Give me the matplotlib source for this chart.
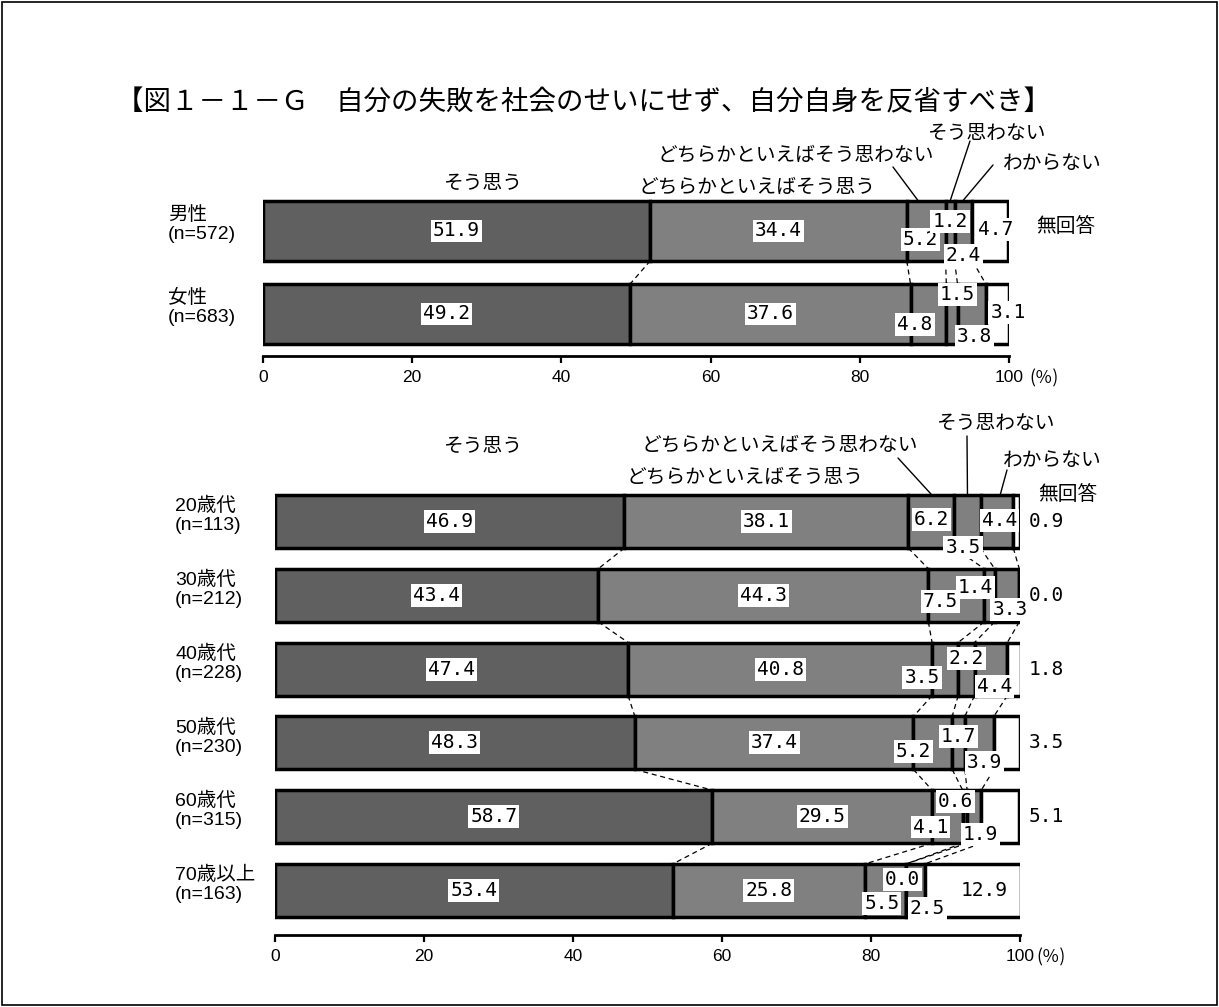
import matplotlib
matplotlib.use("Agg")
import matplotlib.pyplot as plt
from matplotlib.patches import Rectangle
import numpy as np

plt.rcParams['font.family'] = ['Noto Sans CJK JP', 'DejaVu Sans']

# ---------------- data ----------------
title = "【図１－１－Ｇ　自分の失敗を社会のせいにせず、自分自身を反省すべき】"
categories = ["そう思う", "どちらかといえばそう思う", "どちらかといえばそう思わない",
              "そう思わない", "わからない", "無回答"]

sex_labels = ["男性\n(n=572)", "女性\n(n=683)"]
sex_values = [
    [51.9, 34.4, 5.2, 1.2, 2.4, 4.7],
    [49.2, 37.6, 4.8, 1.5, 3.8, 3.1],
]

age_labels = ["20歳代\n(n=113)", "30歳代\n(n=212)", "40歳代\n(n=228)",
              "50歳代\n(n=230)", "60歳代\n(n=315)", "70歳以上\n(n=163)"]
age_values = [
    [46.9, 38.1, 6.2, 3.5, 4.4, 0.9],
    [43.4, 44.3, 7.5, 1.4, 3.3, 0.0],
    [47.4, 40.8, 3.5, 2.2, 4.4, 1.8],
    [48.3, 37.4, 5.2, 1.7, 3.9, 3.5],
    [58.7, 29.5, 4.1, 0.6, 1.9, 5.1],
    [53.4, 25.8, 5.5, 0.0, 2.5, 12.9],
]
ticks = [0, 20, 40, 60, 80, 100]

# ---------------- style / layout ----------------
colors = ["#606060", "#808080", "#808080", "#808080", "#808080", "#ffffff"]
W, H = 1219, 1007
BAR_H = 0.72

# label offsets for small segments (dx in %, dy in row units), per row: seg3, seg4, seg5, seg6
sex_offsets = [
    [(-0.8, 0.10), (0.0, -0.11), (0.0, 0.30), (0.7, -0.02)],
    [(-1.8, 0.13), (0.7, -0.23), (0.4, 0.27), (1.4, -0.02)],
]
age_offsets = [
    [(0.0, -0.03), (-0.6, 0.35), (0.4, -0.01), None],
    [(-2.1, 0.09), (-1.9, -0.11), (0.4, 0.19), None],
    [(-3.1, 0.12), (0.0, -0.14), (0.5, 0.24), None],
    [(-2.6, 0.12), (0.0, -0.09), (0.7, 0.26), None],
    [(-2.3, 0.14), (-1.3, -0.20), (0.8, 0.24), None],
    [(-0.5, 0.18), (-0.5, -0.15), (1.6, 0.24), (1.6, 0.0)],
]


def fp(x, y):
    return (x / W, 1 - y / H)


fig = plt.figure(figsize=(W / 100, H / 100), dpi=100)
fig.patches.append(Rectangle((0.002, 0.002), 0.996, 0.996, transform=fig.transFigure,
                             fill=False, ec='black', lw=1.2))

fig.text(*fp(116, 103), title, fontsize=19.8, ha='left', va='center')

num_font = dict(family='DejaVu Sans Mono', fontsize=14)
box = dict(boxstyle='square,pad=0.1', fc='white', ec='none')


def draw_panel(ax, labels, values, offsets, label_x_frac):
    n = len(values)
    rows = np.arange(n)
    vals = np.array(values)
    cums = np.cumsum(vals, axis=1)
    lefts = cums - vals
    for j in range(vals.shape[1]):
        ax.barh(rows, vals[:, j], left=lefts[:, j], height=BAR_H, color=colors[j],
                edgecolor='black', linewidth=2.5, zorder=2)
    # dashed connectors
    for i in range(n - 1):
        for j in range(5):
            ax.plot([cums[i, j], cums[i + 1, j]], [i + BAR_H / 2, i + 1 - BAR_H / 2],
                    color='black', lw=0.9, ls=(0, (4, 3)), zorder=1)
    # value labels
    for i in range(n):
        for j in range(6):
            v = vals[i, j]
            mid = lefts[i, j] + v / 2
            if j < 2:
                ax.text(mid, i, f"{v:.1f}", ha='center', va='center', bbox=box, zorder=5, **num_font)
            else:
                off = offsets[i][j - 2]
                if off is None:
                    ax.text(101.2, i, f"{v:.1f}", ha='left', va='center', zorder=5, **num_font)
                else:
                    ax.text(mid + off[0], i + off[1], f"{v:.1f}", ha='center', va='center',
                            bbox=box, zorder=5, **num_font)
    ax.set_xlim(0, 100)
    ax.set_xticks(ticks)
    ax.set_xticklabels([str(t) for t in ticks], family='Liberation Sans', fontsize=12.5)
    ax.set_yticks([])
    for s in ['top', 'right', 'left']:
        ax.spines[s].set_visible(False)
    ax.spines['bottom'].set_linewidth(2)
    ax.tick_params(axis='x', direction='out', length=5, width=1.6, pad=5)
    ax.patch.set_visible(False)
    for i, lab in enumerate(labels):
        ax.text(label_x_frac, i - 0.08, lab, transform=ax.get_yaxis_transform(),
                ha='left', va='center', fontsize=14, linespacing=1.15,
                family=['Liberation Sans', 'Noto Sans CJK JP'])


# top panel
ax1 = fig.add_axes([263 / W, 1 - 356 / H, 746 / W, 196 / H])
ax1.set_ylim(1.506, -0.855)
draw_panel(ax1, sex_labels, sex_values, sex_offsets, (168 - 263) / 746)
# bottom panel
ax2 = fig.add_axes([275 / W, 1 - 935 / H, 745 / W, 535 / H])
ax2.set_ylim(5.603, -1.646)
draw_panel(ax2, age_labels, age_values, age_offsets, (175 - 275) / 745)

# (%) texts
fig.text(*fp(1029, 378), "(％)", fontsize=12.5, ha='left', va='center')
fig.text(*fp(1036, 957), "(％)", fontsize=12.5, ha='left', va='center')

# headers
hdr_fs = 14.2
top_hdr = [(483, 183), (757, 187), (796, 155), (987, 133), (1052, 163), (1066, 226)]
bot_hdr = [(483, 446), (745, 477), (780, 445), (996, 423), (1052, 460), (1068, 495)]
for (x, y), c in zip(top_hdr, categories):
    fig.text(*fp(x, y), c, fontsize=hdr_fs, ha='center', va='center')
for (x, y), c in zip(bot_hdr, categories):
    fig.text(*fp(x, y), c, fontsize=hdr_fs, ha='center', va='center')

# leader lines: (segment index, fraction across segment, start pixel)
top_leaders = [(2, 0.3, (893, 167)), (3, 0.5, (970, 141)), (4, 0.45, (993, 165))]
bot_leaders = [(2, 0.51, (898, 458)), (3, 0.5, (967, 436)), (4, 0.6, (1007, 470))]
for ax, vals, leaders in [(ax1, sex_values, top_leaders), (ax2, age_values, bot_leaders)]:
    v0 = np.array(vals[0])
    c0 = np.cumsum(v0)
    for j, frac, (sx, sy) in leaders:
        xd = c0[j] - v0[j] + frac * v0[j]
        ax.annotate('', xy=(xd, -BAR_H / 2), xycoords='data',
                    xytext=fp(sx, sy), textcoords='figure fraction',
                    arrowprops=dict(arrowstyle='-', lw=1.0, color='black',
                                    shrinkA=0, shrinkB=0), zorder=1)

fig.savefig("out.png", dpi=100)
